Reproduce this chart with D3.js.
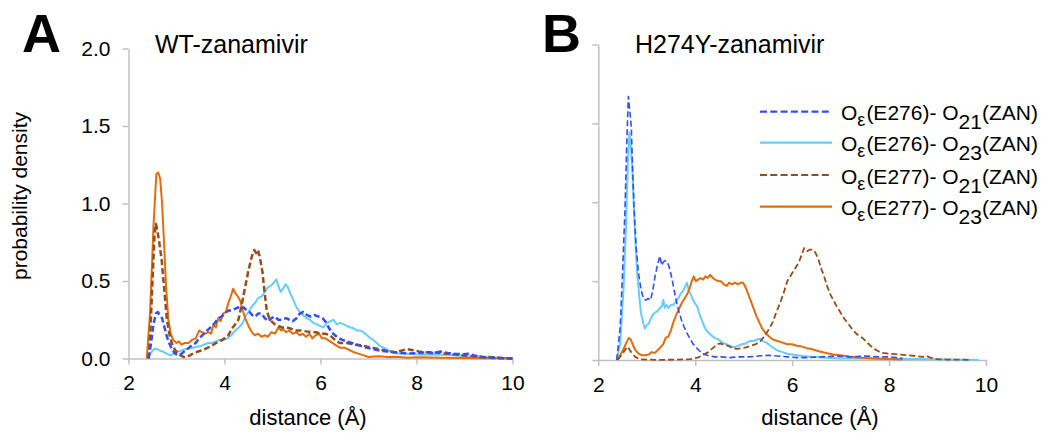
<!DOCTYPE html>
<html>
<head>
<meta charset="utf-8">
<script src="https://cdn.jsdelivr.net/npm/d3@7"></script>
<style>
  body { margin: 0; background: #fff; }
  text { font-family: "Liberation Sans", Arial, Helvetica, sans-serif; fill: #000; }
</style>
</head>
<body>
<svg id="chart" width="1046" height="434"></svg>
<script>
// x ticks and y ticks shared by both panels
var xTicks = [2, 4, 6, 8, 10];
var yTicks = [0, 0.5, 1.0, 1.5, 2.0];

var panelLetters = ["A", "B"];
var panelTitles = ["WT-zanamivir", "H274Y-zanamivir"];

// legend labels (order = series order)
var legendSites = ["E276", "E276", "E277", "E277"];
var legendSubs = ["21", "23", "21", "23"];

// ---- panel A: WT-zanamivir, [distance, density] ----
var wtE276O21 = [[2.42,0],[2.47,0.1],[2.52,0.22],[2.57,0.29],[2.61,0.3],[2.65,0.28],[2.7,0.26],[2.75,0.2],[2.8,0.14],[2.86,0.09],[2.92,0.05],[2.98,0.03],[3.04,0.02],[3.1,0.03],[3.18,0.05],[3.26,0.07],[3.33,0.09],[3.4,0.1],[3.47,0.13],[3.54,0.15],[3.6,0.17],[3.67,0.19],[3.74,0.21],[3.8,0.23],[3.87,0.26],[3.94,0.27],[4.01,0.29],[4.08,0.31],[4.15,0.31],[4.22,0.32],[4.28,0.33],[4.34,0.32],[4.4,0.33],[4.46,0.31],[4.52,0.3],[4.58,0.28],[4.64,0.27],[4.7,0.29],[4.77,0.29],[4.84,0.26],[4.91,0.24],[4.98,0.26],[5.05,0.27],[5.12,0.25],[5.2,0.25],[5.28,0.26],[5.35,0.25],[5.42,0.24],[5.5,0.26],[5.57,0.29],[5.64,0.3],[5.72,0.28],[5.8,0.27],[5.88,0.28],[5.96,0.27],[6.04,0.26],[6.1,0.24],[6.17,0.2],[6.23,0.17],[6.3,0.15],[6.38,0.13],[6.46,0.12],[6.55,0.11],[6.65,0.1],[6.75,0.09],[6.85,0.08],[6.95,0.07],[7.1,0.06],[7.25,0.05],[7.4,0.045],[7.55,0.04],[7.7,0.035],[7.85,0.033],[8.0,0.035],[8.2,0.04],[8.35,0.035],[8.5,0.045],[8.65,0.035],[8.8,0.03],[8.95,0.028],[9.1,0.03],[9.2,0.02],[9.35,0.01],[9.5,0.005],[9.7,0.002],[10,0]];
var wtE276O23 = [[2.4,0],[2.45,0.03],[2.5,0.05],[2.55,0.065],[2.6,0.06],[2.66,0.05],[2.72,0.045],[2.8,0.03],[2.88,0.02],[2.95,0.03],[3.02,0.045],[3.1,0.05],[3.18,0.06],[3.26,0.065],[3.34,0.07],[3.42,0.075],[3.5,0.08],[3.58,0.09],[3.66,0.1],[3.74,0.1],[3.82,0.11],[3.9,0.12],[3.98,0.12],[4.06,0.13],[4.14,0.15],[4.22,0.18],[4.3,0.2],[4.38,0.23],[4.45,0.28],[4.52,0.31],[4.58,0.34],[4.64,0.36],[4.7,0.39],[4.77,0.4],[4.84,0.43],[4.91,0.46],[4.97,0.47],[5.03,0.49],[5.08,0.51],[5.12,0.47],[5.17,0.43],[5.22,0.45],[5.27,0.48],[5.32,0.46],[5.37,0.42],[5.43,0.38],[5.5,0.33],[5.57,0.3],[5.64,0.28],[5.71,0.26],[5.78,0.25],[5.85,0.23],[5.92,0.22],[5.99,0.21],[6.06,0.2],[6.13,0.23],[6.2,0.24],[6.27,0.25],[6.34,0.22],[6.41,0.23],[6.48,0.22],[6.55,0.21],[6.62,0.2],[6.69,0.195],[6.76,0.18],[6.83,0.18],[6.9,0.17],[6.97,0.15],[7.04,0.13],[7.1,0.12],[7.17,0.1],[7.24,0.08],[7.31,0.07],[7.4,0.055],[7.5,0.04],[7.65,0.03],[7.85,0.03],[8.05,0.025],[8.3,0.025],[8.6,0.025],[8.85,0.02],[9.05,0.015],[9.3,0.012],[9.5,0.008],[9.75,0.003],[10,0]];
var wtE277O21 = [[2.42,0],[2.46,0.2],[2.5,0.5],[2.54,0.78],[2.57,0.87],[2.6,0.83],[2.64,0.75],[2.69,0.64],[2.74,0.46],[2.8,0.25],[2.85,0.16],[2.9,0.1],[2.96,0.06],[3.02,0.035],[3.08,0.02],[3.15,0.01],[3.2,0.008],[3.28,0.02],[3.36,0.035],[3.45,0.045],[3.55,0.055],[3.65,0.07],[3.73,0.08],[3.82,0.1],[3.9,0.11],[4.0,0.13],[4.08,0.15],[4.15,0.19],[4.22,0.22],[4.29,0.25],[4.36,0.35],[4.43,0.46],[4.5,0.57],[4.57,0.66],[4.62,0.7],[4.66,0.68],[4.7,0.7],[4.75,0.63],[4.79,0.56],[4.83,0.44],[4.88,0.31],[4.93,0.26],[4.98,0.24],[5.05,0.22],[5.12,0.21],[5.2,0.2],[5.3,0.2],[5.4,0.19],[5.5,0.18],[5.6,0.18],[5.7,0.175],[5.8,0.17],[5.9,0.17],[6.0,0.16],[6.1,0.16],[6.2,0.15],[6.3,0.12],[6.4,0.1],[6.55,0.1],[6.7,0.09],[6.85,0.085],[7.0,0.075],[7.15,0.065],[7.3,0.055],[7.45,0.045],[7.55,0.04],[7.68,0.05],[7.8,0.06],[7.9,0.055],[8.05,0.045],[8.2,0.04],[8.35,0.04],[8.5,0.035],[8.65,0.03],[8.8,0.025],[9.0,0.02],[9.2,0.015],[9.4,0.01],[9.6,0.008],[9.8,0.003],[10,0.001]];
var wtE277O23 = [[2.38,0],[2.45,0.3],[2.52,0.85],[2.58,1.19],[2.62,1.2],[2.66,1.16],[2.7,1.0],[2.74,0.75],[2.78,0.48],[2.83,0.25],[2.88,0.16],[2.93,0.12],[3.0,0.1],[3.05,0.11],[3.1,0.09],[3.17,0.1],[3.25,0.1],[3.32,0.12],[3.4,0.13],[3.47,0.18],[3.53,0.17],[3.6,0.16],[3.66,0.17],[3.72,0.16],[3.77,0.22],[3.82,0.2],[3.87,0.26],[3.92,0.24],[3.97,0.29],[4.03,0.3],[4.08,0.36],[4.13,0.4],[4.18,0.45],[4.23,0.42],[4.28,0.4],[4.33,0.37],[4.38,0.31],[4.43,0.26],[4.5,0.21],[4.57,0.17],[4.63,0.15],[4.7,0.16],[4.77,0.14],[4.84,0.15],[4.9,0.14],[4.98,0.17],[5.05,0.16],[5.12,0.2],[5.18,0.18],[5.22,0.19],[5.28,0.17],[5.35,0.18],[5.42,0.16],[5.5,0.17],[5.57,0.15],[5.63,0.16],[5.7,0.14],[5.77,0.16],[5.83,0.13],[5.9,0.15],[5.97,0.16],[6.03,0.13],[6.1,0.13],[6.2,0.11],[6.3,0.09],[6.4,0.07],[6.5,0.07],[6.6,0.055],[6.7,0.04],[6.8,0.03],[6.9,0.02],[7.0,0.01],[7.2,0.015],[7.4,0.01],[7.6,0.012],[7.8,0.005],[8.0,0.008],[8.5,0.005],[9.0,0.004],[9.5,0.002],[10,0.001]];

// ---- panel B: H274Y-zanamivir ----
var mutE276O21 = [[2.38,0],[2.45,0.2],[2.5,0.55],[2.55,0.95],[2.59,1.4],[2.62,1.67],[2.65,1.58],[2.68,1.48],[2.71,1.2],[2.74,0.95],[2.78,0.72],[2.83,0.55],[2.88,0.45],[2.93,0.39],[2.98,0.38],[3.03,0.39],[3.08,0.38],[3.13,0.45],[3.17,0.53],[3.22,0.6],[3.27,0.66],[3.31,0.6],[3.34,0.62],[3.38,0.63],[3.43,0.62],[3.48,0.57],[3.53,0.5],[3.58,0.42],[3.62,0.36],[3.67,0.3],[3.72,0.25],[3.77,0.21],[3.83,0.17],[3.9,0.13],[3.96,0.1],[4.02,0.08],[4.08,0.06],[4.15,0.04],[4.25,0.03],[4.4,0.02],[4.55,0.02],[4.7,0.015],[4.9,0.02],[5.1,0.02],[5.3,0.025],[5.5,0.03],[5.7,0.025],[5.9,0.02],[6.1,0.015],[6.3,0.015],[6.6,0.02],[6.9,0.025],[7.2,0.02],[7.5,0.025],[7.8,0.02],[8.0,0.02],[8.15,0.015],[8.28,0.01]];
var mutE276O23 = [[2.38,0],[2.45,0.1],[2.52,0.45],[2.57,0.84],[2.61,1.25],[2.64,1.44],[2.67,1.36],[2.7,1.22],[2.73,1.0],[2.76,0.78],[2.8,0.56],[2.84,0.42],[2.88,0.3],[2.93,0.23],[2.96,0.2],[3.0,0.22],[3.04,0.23],[3.08,0.26],[3.13,0.29],[3.17,0.3],[3.22,0.31],[3.27,0.33],[3.31,0.34],[3.34,0.38],[3.37,0.33],[3.41,0.35],[3.45,0.33],[3.5,0.35],[3.55,0.35],[3.6,0.37],[3.65,0.39],[3.7,0.42],[3.75,0.44],[3.8,0.47],[3.83,0.49],[3.86,0.45],[3.9,0.42],[3.94,0.39],[3.99,0.36],[4.04,0.34],[4.09,0.29],[4.14,0.25],[4.19,0.21],[4.25,0.18],[4.32,0.16],[4.4,0.14],[4.48,0.13],[4.56,0.11],[4.64,0.1],[4.72,0.09],[4.8,0.08],[4.88,0.09],[4.96,0.1],[5.04,0.105],[5.12,0.12],[5.2,0.12],[5.28,0.13],[5.34,0.135],[5.4,0.12],[5.47,0.11],[5.55,0.09],[5.62,0.075],[5.7,0.06],[5.8,0.05],[5.9,0.04],[6.0,0.035],[6.2,0.025],[6.4,0.02],[6.7,0.015],[7.0,0.01],[7.5,0.01],[8.0,0.008],[8.5,0.006],[9.0,0.004],[9.5,0.002],[9.85,0]];
var mutE277O21 = [[2.4,0],[2.5,0.04],[2.6,0.085],[2.68,0.05],[2.76,0.02],[2.85,0.005],[3.0,0.002],[3.3,0.001],[3.6,0.002],[3.9,0.005],[4.05,0.015],[4.15,0.03],[4.27,0.05],[4.38,0.08],[4.46,0.1],[4.52,0.105],[4.6,0.095],[4.68,0.09],[4.77,0.075],[4.86,0.07],[4.95,0.075],[5.05,0.08],[5.15,0.09],[5.25,0.1],[5.35,0.12],[5.45,0.16],[5.53,0.2],[5.6,0.24],[5.67,0.3],[5.75,0.36],[5.83,0.43],[5.9,0.5],[5.98,0.54],[6.06,0.58],[6.14,0.62],[6.2,0.67],[6.25,0.71],[6.31,0.69],[6.37,0.7],[6.43,0.7],[6.48,0.68],[6.54,0.64],[6.6,0.58],[6.66,0.53],[6.72,0.47],[6.78,0.42],[6.85,0.38],[6.92,0.34],[7.0,0.3],[7.08,0.26],[7.16,0.23],[7.25,0.19],[7.35,0.16],[7.45,0.14],[7.55,0.11],[7.65,0.08],[7.75,0.06],[7.85,0.045],[8.0,0.04],[8.2,0.035],[8.4,0.03],[8.55,0.025],[8.7,0.02],[8.78,0.025],[8.85,0.015],[9.0,0.005],[9.2,0.003],[9.5,0.002],[9.68,0]];
var mutE277O23 = [[2.38,0],[2.45,0.03],[2.52,0.07],[2.58,0.11],[2.63,0.14],[2.67,0.13],[2.72,0.09],[2.77,0.06],[2.83,0.04],[2.9,0.03],[2.97,0.03],[3.04,0.035],[3.1,0.05],[3.16,0.045],[3.22,0.06],[3.28,0.08],[3.34,0.1],[3.39,0.14],[3.45,0.15],[3.5,0.19],[3.55,0.24],[3.6,0.28],[3.66,0.32],[3.72,0.36],[3.78,0.39],[3.84,0.42],[3.89,0.46],[3.93,0.5],[3.97,0.53],[4.01,0.5],[4.06,0.51],[4.11,0.52],[4.16,0.51],[4.21,0.53],[4.26,0.52],[4.31,0.54],[4.36,0.52],[4.41,0.51],[4.47,0.5],[4.53,0.5],[4.59,0.48],[4.65,0.47],[4.7,0.49],[4.76,0.48],[4.82,0.49],[4.88,0.48],[4.94,0.49],[4.99,0.49],[5.04,0.46],[5.09,0.42],[5.14,0.38],[5.2,0.33],[5.26,0.28],[5.32,0.24],[5.38,0.2],[5.45,0.17],[5.52,0.15],[5.6,0.13],[5.7,0.12],[5.8,0.11],[5.9,0.1],[6.0,0.1],[6.1,0.09],[6.2,0.085],[6.3,0.075],[6.4,0.07],[6.55,0.055],[6.7,0.045],[6.85,0.035],[7.0,0.03],[7.2,0.02],[7.5,0.012],[7.8,0.008],[8.1,0.005],[8.28,0.003]];

// series styles, same order as legend
var lineColors = ["#2f50f2", "#66ccff", "#9a4c18", "#e46c0a"];
var lineDash = ["6,3", null, "6,3", null];

var svg = d3.select("#chart");

function drawPanel(idx, box, series, dashWidth, showYLabels) {
    var x = d3.scaleLinear().domain([2, 10]).range([box.left, box.right]);
    var y = d3.scaleLinear().domain([0, 2]).range([box.bottom, box.top]);
    var g = svg.append("g");

    var yAxis = d3.axisLeft(y).tickValues(yTicks).tickSize(6).tickSizeOuter(0).tickPadding(12)
        .tickFormat(showYLabels ? d3.format(".1f") : function() { return ""; });
    var xAxis = d3.axisBottom(x).tickValues(xTicks).tickSize(6).tickSizeOuter(0).tickPadding(11)
        .tickFormat(d3.format("d"));

    var ya = g.append("g").attr("transform", "translate(" + box.left + ",0)").call(yAxis);
    var xa = g.append("g").attr("transform", "translate(0," + box.bottom + ")").call(xAxis);
    [ya, xa].forEach(function(a) {
        a.selectAll("path, line").attr("stroke", "#c0c0c0").attr("stroke-width", 1.5);
        a.selectAll("text").attr("font-size", 21).attr("font-family", null).attr("fill", "#000");
    });

    var line = d3.line().x(function(d) { return x(d[0]); }).y(function(d) { return y(d[1]); });
    // light blue first, then orange, brown, blue on top
    [1, 3, 2, 0].forEach(function(s) {
        g.append("path")
            .datum(series[s])
            .attr("d", line)
            .attr("fill", "none")
            .attr("stroke", lineColors[s])
            .attr("stroke-width", lineDash[s] ? dashWidth[s] : 2)
            .attr("stroke-dasharray", lineDash[s])
            .attr("stroke-linejoin", "round");
    });

    // panel letter and title
    svg.append("text").attr("x", box.letterX).attr("y", 52)
        .attr("font-size", 54).attr("font-weight", "bold").text(panelLetters[idx]);
    svg.append("text").attr("x", box.titleX).attr("y", 53)
        .attr("font-size", 25).text(panelTitles[idx]);

    svg.append("text").attr("x", box.xLabelX).attr("y", 425)
        .attr("text-anchor", "middle").attr("font-size", 22).text("distance (Å)");
}

drawPanel(0, {left: 128.5, right: 512.5, top: 48.5, bottom: 358.5, letterX: 22, titleX: 155, xLabelX: 308},
    [wtE276O21, wtE276O23, wtE277O21, wtE277O23], [2.5, 0, 2.5, 0], true);
drawPanel(1, {left: 598.3, right: 986, top: 44.5, bottom: 360, letterX: 542, titleX: 635, xLabelX: 820},
    [mutE276O21, mutE276O23, mutE277O21, mutE277O23], [1.6, 0, 1.8, 0], false);

// y axis label (panel A only)
svg.append("text")
    .attr("transform", "translate(27,196) rotate(-90)")
    .attr("text-anchor", "middle").attr("font-size", 21)
    .text("probability density");

// legend in panel B
var legendRows = [111.7, 142.7, 175, 206.7];
legendRows.forEach(function(ry, i) {
    svg.append("line")
        .attr("x1", 760).attr("x2", 832).attr("y1", ry).attr("y2", ry)
        .attr("stroke", lineColors[i]).attr("stroke-width", 2.2)
        .attr("stroke-dasharray", lineDash[i] ? "7,3.3" : null);
    var t = svg.append("text").attr("x", 841).attr("y", ry + 8.5).attr("font-size", 21);
    t.append("tspan").text("O");
    t.append("tspan").attr("dy", 6).attr("font-size", 18).text("ε");
    t.append("tspan").attr("dy", -6).attr("dx", 1).text("(" + legendSites[i] + ")- O");
    t.append("tspan").attr("dy", 9).text(legendSubs[i]);
    t.append("tspan").attr("dy", -9).text("(ZAN)");
});
</script>
</body>
</html>
